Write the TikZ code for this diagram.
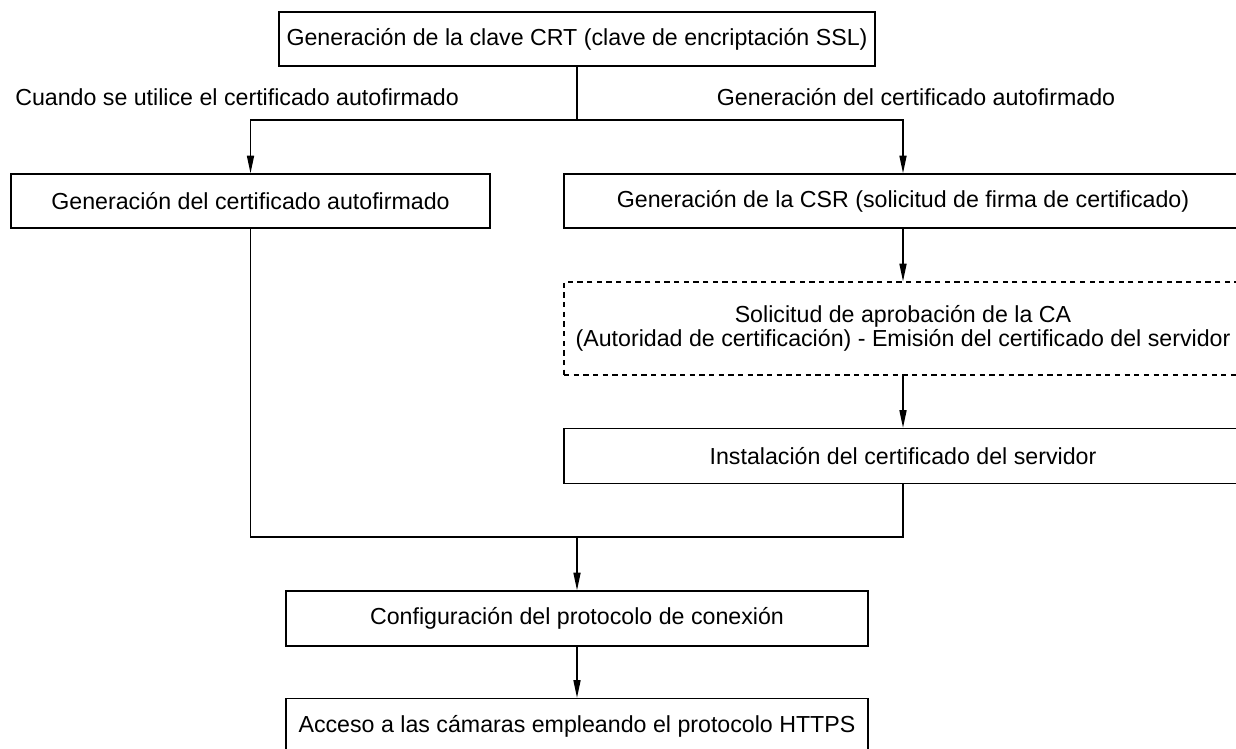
\documentclass[tikz,border=0pt]{standalone}
\usepackage{fontspec}
\setmainfont{Liberation Sans}
\usepackage{tikz}
\usetikzlibrary{arrows.meta,positioning}

\begin{document}
\begin{tikzpicture}[x=0.02cm,y=-0.02cm,line width=0.8pt,
  every node/.style={align=center,font=\fontsize{13.2}{13.6}\selectfont},
  paso/.style={draw,minimum height=1.08cm,inner sep=0pt},
  flecha/.style={-{Triangle[length=10pt,width=4pt]}}]
\useasboundingbox (0,0) rectangle (1236,749);
\clip (0,0) rectangle (1236,749);
\node[paso,minimum width=11.92cm] (crt) at (577,39) {Generación de la clave CRT (clave de encriptación SSL)};
\node (lblizq) at (237,97) {Cuando se utilice el certificado autofirmado};
\node (lblder) at (916,97) {Generación del certificado autofirmado};
\node[paso,minimum width=9.58cm] (auto) at (250.5,201) {Generación del certificado autofirmado};
\node[paso,minimum width=13.56cm] (csr) at (903,201) {Generación de la CSR (solicitud de firma de certificado)};
\node[paso,dash pattern=on 3pt off 2.5pt,minimum width=13.56cm,minimum height=1.86cm] (ca) at (903,328.5)
  {Solicitud de aprobación de la CA\\(Autoridad de certificación) - Emisión del certificado del servidor};
\node[paso,minimum width=13.56cm,minimum height=1.1cm] (inst) at (903,456) {Instalación del certificado del servidor};
\node[paso,minimum width=11.64cm,minimum height=1.1cm] (conf) at (577,618.5) {Configuración del protocolo de conexión};
\node[paso,minimum width=11.64cm,minimum height=1.1cm] (https) at (577,726) {Acceso a las cámaras empleando el protocolo HTTPS};
\coordinate (rama) at (577,120);
\coordinate (union) at (577,537);
\draw (crt) -- (rama);
\draw[flecha] (rama) -| (auto);
\draw[flecha] (rama) -| (csr);
\draw[flecha] (csr) -- (ca);
\draw[flecha] (ca) -- (inst);
\draw (auto.south) -- (auto.south |- union) -- (inst.south |- union) -- (inst.south);
\draw[flecha] (union) -- (conf);
\draw[flecha] (conf) -- (https);
\end{tikzpicture}
\end{document}
